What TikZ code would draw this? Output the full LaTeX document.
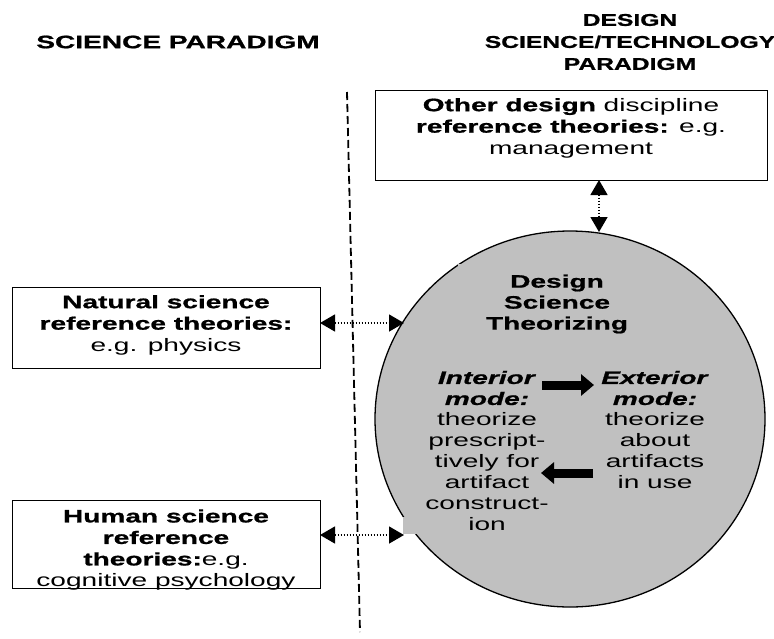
\documentclass[tikz,border=0pt]{standalone}
\usepackage{fontspec}
\setmainfont{Liberation Sans}[FakeStretch=1.56, BoldFeatures={FakeBold=1}, BoldItalicFeatures={FakeBold=1}]
\newfontfamily\ttlfont{Liberation Sans}[FakeStretch=1.45, BoldFeatures={FakeBold=1}]
\usetikzlibrary{arrows.meta,shapes.geometric}
\definecolor{circgray}{HTML}{C0C0C0}
\begin{document}
\begin{tikzpicture}[x=1pt,y=-1pt,
  refbox/.style={draw, line width=1.4pt, inner sep=0pt, anchor=north west},
  txt/.style={align=center, font=\fontsize{18}{21.5}\selectfont, inner sep=0pt},
  ctxt/.style={align=center, font=\fontsize{18}{21}\selectfont, inner sep=0pt},
  dotarrow/.style={line width=1.4pt, dash pattern=on 1.5pt off 1.5pt,
    {Triangle[length=15pt,width=17pt]}-{Triangle[length=15pt,width=17pt]}},
  blockarrow/.style={line width=9pt, -{Triangle[length=13pt,width=21pt]}}
]
\useasboundingbox (0,0) rectangle (774,638);

% titles
\node[align=center, inner sep=0pt, font=\fontsize{18}{22}\selectfont\bfseries] (tleft) at (178,42) {SCIENCE PARADIGM};
\node[align=center, inner sep=0pt, font=\ttlfont\fontsize{17}{22}\selectfont\bfseries] (tright) at (630,42) {DESIGN\\SCIENCE/TECHNOLOGY\\PARADIGM};

% dashed divider
\coordinate (dtop) at (347,92);
\coordinate (dbot) at (360,632);
\draw[line width=1.8pt, dash pattern=on 8pt off 4pt] (dtop) -- (dbot);

% design science theorizing (ellipse)
\node[ellipse, draw, line width=1.3pt, fill=circgray, minimum width=390pt, minimum height=376pt, inner sep=0pt] (dst) at (570,419) {};
\fill[circgray] (403,517) rectangle (430,534);
\fill[circgray] (458,264) rectangle (472,276);

% boxes
\node[refbox, minimum width=392pt, minimum height=90pt] (other) at (375,90) {};
\node[refbox, minimum width=308pt, minimum height=81pt] (nat) at (12,287) {};
\node[refbox, minimum width=308pt, minimum height=88pt] (hum) at (12,500) {};

% box texts
\node[txt] (othertxt) at (571,128) {\textbf{Other design} discipline\\\textbf{reference theories:} e.g.\\management};
\node[txt] (nattxt) at (166,325) {\textbf{Natural science}\\\textbf{reference theories:}\\e.g. physics};
\node[txt] (humtxt) at (166,550) {\textbf{Human science}\\\textbf{reference}\\\textbf{theories:}e.g.\\cognitive psychology};

% circle texts
\node[ctxt, font=\fontsize{18}{21}\selectfont\bfseries] (dsttitle) at (557,304) {Design\\Science\\Theorizing};
\node[ctxt] (interior) at (487,451) {\textbf{\itshape Interior}\\\textbf{\itshape mode:}\\theorize\\prescript-\\tively for\\artifact\\construct-\\ion};
\node[ctxt] (exterior) at (655,430) {\textbf{\itshape Exterior}\\\textbf{\itshape mode:}\\theorize\\about\\artifacts\\in use};

% connectors
\coordinate (otherbot) at (599,180);
\coordinate (dsttop) at (599,232);
\draw[dotarrow] (otherbot) -- (dsttop);
\coordinate (natr) at (320,323);
\coordinate (natc) at (404,323);
\draw[dotarrow] (natr) -- (natc);
\coordinate (humr) at (320,535);
\coordinate (humc) at (404,535);
\draw[dotarrow] (humr) -- (humc);

% block arrows
\coordinate (ia) at (542,385);
\coordinate (ea) at (594,385);
\draw[blockarrow] (ia) -- (ea);
\coordinate (eb) at (593,473);
\coordinate (ib) at (541,473);
\draw[blockarrow] (eb) -- (ib);
\end{tikzpicture}
\end{document}
